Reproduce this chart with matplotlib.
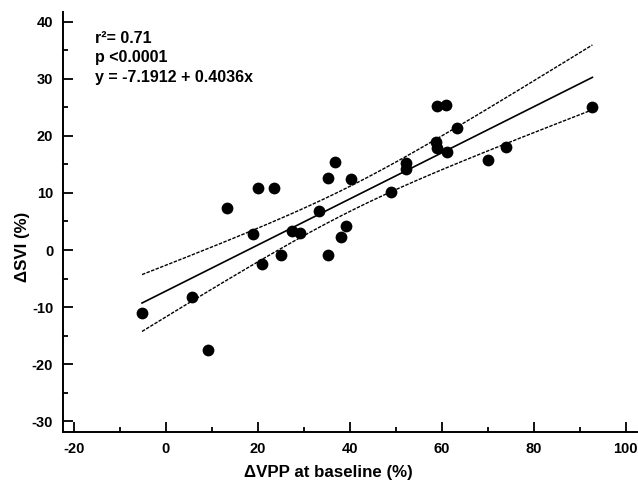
import numpy as np
import matplotlib.pyplot as plt
from matplotlib.ticker import MultipleLocator

plt.rcParams['font.family'] = ['Liberation Sans', 'DejaVu Sans']
plt.rcParams['font.weight'] = 'bold'
plt.rcParams['axes.unicode_minus'] = False

# data
vpp = [-5.2, 5.7, 9.1, 13.3, 18.9, 20.0, 23.5, 20.9, 25.0, 27.4, 29.1, 33.3,
       35.2, 36.7, 40.2, 39.1, 38.2, 35.2, 48.9, 52.2, 52.2, 58.7, 59.0, 59.0,
       60.9, 61.1, 63.3, 70.0, 74.1, 92.8]
svi = [-11.0, -8.2, -17.5, 7.4, 2.8, 10.9, 10.9, -2.4, -0.9, 3.3, 3.0, 6.8,
       12.6, 15.4, 12.5, 4.2, 2.3, -0.8, 10.2, 15.3, 14.2, 19.0, 17.8, 25.3,
       25.4, 17.2, 21.4, 15.8, 18.1, 25.1]

intercept = -7.1912
slope = 0.4036
stats_text = 'r²= 0.71\np <0.0001\ny = -7.1912 + 0.4036x'

x = np.array(vpp)
y = np.array(svi)
n = len(x)

# regression line and 95% confidence band
xf = np.linspace(x.min(), x.max(), 200)
yf = intercept + slope * xf
resid = y - (intercept + slope * x)
s = np.sqrt(np.sum(resid ** 2) / (n - 2))
sxx = np.sum((x - x.mean()) ** 2)
tval = 2.048
half = tval * s * np.sqrt(1.0 / n + (xf - x.mean()) ** 2 / sxx)

fig = plt.figure(figsize=(6.38, 4.84), dpi=100)
ax = fig.add_axes([0.0987, 0.1074, 0.899, 0.8676])

ax.plot(xf, yf, color='black', lw=1.2)
ax.plot(xf, yf + half, color='black', lw=1.0, dashes=(2.5, 1.0))
ax.plot(xf, yf - half, color='black', lw=1.0, dashes=(2.5, 1.0))
ax.scatter(x, y, s=72, color='black', zorder=3, linewidths=0)

ax.text(-15.5, 38.4, stats_text, fontsize=11.5, fontweight='bold',
        va='top', ha='left', linespacing=1.38)

ax.set_xlim(-22.4, 102.4)
ax.set_ylim(-31.9, 41.7)
ax.xaxis.set_major_locator(MultipleLocator(20))
ax.xaxis.set_minor_locator(MultipleLocator(10))
ax.yaxis.set_major_locator(MultipleLocator(10))
ax.yaxis.set_minor_locator(MultipleLocator(5))
ax.tick_params(which='major', direction='in', length=7, width=1.3, labelsize=10.5, pad=7)
ax.tick_params(which='minor', direction='in', length=3.5, width=1.3)
for lab in ax.get_xticklabels() + ax.get_yticklabels():
    lab.set_fontweight('bold')

for side in ['top', 'right']:
    ax.spines[side].set_visible(False)
for side in ['left', 'bottom']:
    ax.spines[side].set_linewidth(1.4)

ax.set_xlabel('ΔVPP at baseline (%)', fontsize=12.2, fontweight='bold', labelpad=7, x=0.462)
ax.set_ylabel('ΔSVI (%)', fontsize=12.2, fontweight='bold', labelpad=1, y=0.44)

fig.savefig('out.png', dpi=100)
